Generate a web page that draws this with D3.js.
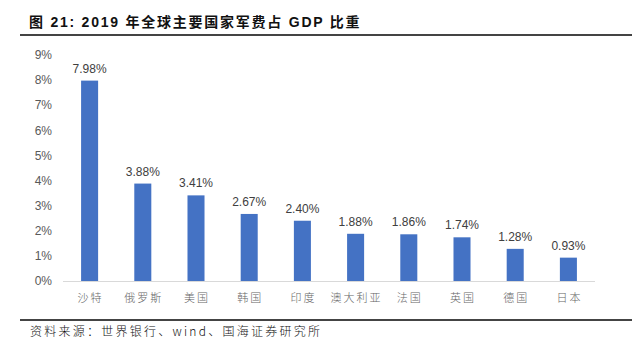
<!DOCTYPE html>
<html><head><meta charset="utf-8">
<script src="https://cdn.jsdelivr.net/npm/d3@7"></script>
<style>body{margin:0;background:#fff;}</style>
</head><body>
<svg id="c" width="632" height="348"></svg>
<script>
const categories = ["沙特","俄罗斯","美国","韩国","印度","澳大利亚","法国","英国","德国","日本"];
const values = [7.98,3.88,3.41,2.67,2.40,1.88,1.86,1.74,1.28,0.93];
const yTicks = [0,1,2,3,4,5,6,7,8,9];
const titleText = "图 21:  2019 年全球主要国家军费占 GDP 比重";
const sourceText = "资料来源：世界银行、wind、国海证券研究所";

const svg = d3.select("#c");
const x = d3.scaleBand().domain(categories).range([63,595]).paddingInner(0.68).paddingOuter(0.34);
const y = d3.scaleLinear().domain([0,9]).range([281,55]);

// title
svg.append("text").attr("x",29).attr("y",27).attr("font-family","Liberation Sans, Noto Sans CJK SC, sans-serif")
  .attr("font-size",14).attr("font-weight","bold").attr("fill","#111").attr("letter-spacing",2.4)
  .attr("textLength",333).attr("lengthAdjust","spacing").text(titleText);
svg.append("line").attr("x1",20).attr("x2",632).attr("y1",35).attr("y2",35).attr("stroke","#444").attr("stroke-width",2);

// y axis labels
svg.append("g").selectAll("text").data(yTicks).join("text")
  .attr("x",52).attr("y",d=>y(d)).attr("dy","0.35em").attr("text-anchor","end")
  .attr("font-family","Liberation Sans, Arial, sans-serif").attr("font-size",12).attr("fill","#595959")
  .text(d=>d+"%");

// bars
svg.append("g").selectAll("rect").data(values).join("rect")
  .attr("x",(d,i)=>x(categories[i])).attr("width",x.bandwidth())
  .attr("y",d=>y(d)).attr("height",d=>y(0)-y(d)).attr("fill","#4472C4");

// axis line
svg.append("line").attr("x1",63).attr("x2",595).attr("y1",y(0)+0.5).attr("y2",y(0)+0.5).attr("stroke","#d9d9d9").attr("stroke-width",1);

// value labels
svg.append("g").selectAll("text").data(values).join("text")
  .attr("x",(d,i)=>x(categories[i])+x.bandwidth()/2).attr("y",d=>y(d)-8)
  .attr("text-anchor","middle").attr("font-family","Liberation Sans, Arial, sans-serif")
  .attr("font-size",12).attr("fill","#404040").text(d=>d.toFixed(2)+"%");

// x labels
svg.append("g").selectAll("text").data(categories).join("text")
  .attr("x",d=>x(d)+x.bandwidth()/2+1).attr("y",302).attr("text-anchor","middle")
  .attr("font-family","Noto Sans CJK SC, sans-serif").attr("font-size",11).attr("font-weight",300)
  .attr("letter-spacing",2).attr("fill","#666").text(d=>d);

// source
svg.append("line").attr("x1",20).attr("x2",632).attr("y1",320).attr("y2",320).attr("stroke","#444").attr("stroke-width",2);
svg.append("text").attr("x",30).attr("y",336).attr("font-family","Noto Sans CJK SC, Liberation Sans, sans-serif")
  .attr("font-size",12).attr("font-weight",300).attr("fill","#111")
  .attr("textLength",290).attr("lengthAdjust","spacing").text(sourceText);
</script>
</body></html>
